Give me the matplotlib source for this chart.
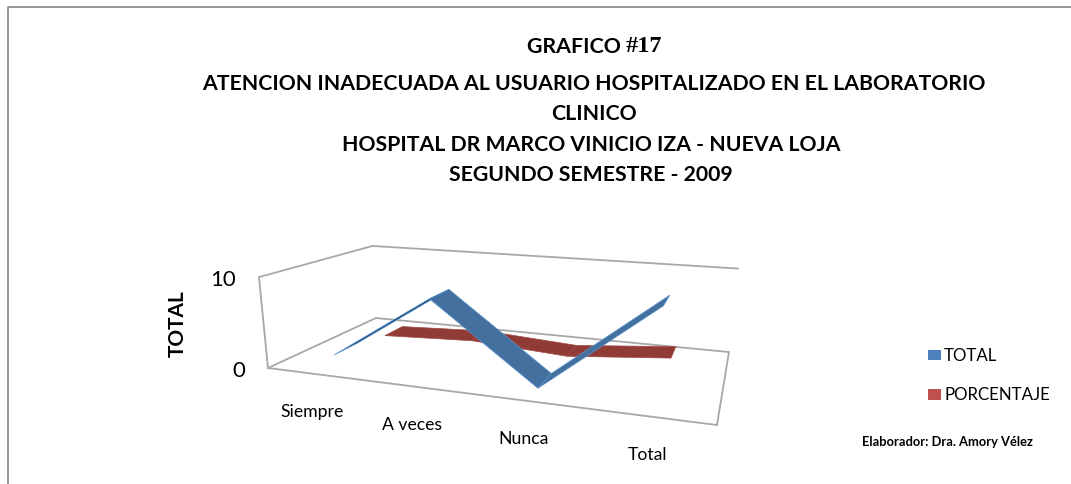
# -*- coding: utf-8 -*-
import matplotlib
matplotlib.use('Agg')
import matplotlib.pyplot as plt
import numpy as np

plt.rcParams['font.family'] = ['Lato', 'DejaVu Sans']

categories = ['Siempre', 'A veces', 'Nunca', 'Total']
total_values = [1.0, 8.3, 0.0, 9.5]
porcentaje_values = [0.2, 0.7, 0.0, 1.05]
value_ticks = [0, 10]
title_lines = ['ATENCION INADECUADA AL USUARIO HOSPITALIZADO EN EL LABORATORIO',
               'CLINICO',
               'HOSPITAL DR MARCO VINICIO IZA - NUEVA LOJA',
               'SEGUNDO SEMESTRE - 2009']

# camera of the 3D box: (category, depth, value) in 0-1 -> pixels of the picture
CAM = np.array([[316.0, 212.6, -19.4, 268.0],
                [-22.0, 38.8, -102.0, 369.0],
                [-0.1855, 0.2783, -0.04, 1.0]])
VMAX = 10.0


def proj(u, w, t):
    p = CAM @ np.array([u, w, t, 1.0])
    return p[0] / p[2], p[1] / p[2]


def draw_ribbon(ax, values, w0, w1, top_color, under_color, edge_color, z):
    us = (np.arange(len(values)) + 0.5) / len(values)
    for i in range(len(values) - 1):
        a0 = proj(us[i], w0, values[i] / VMAX)
        a1 = proj(us[i], w1, values[i] / VMAX)
        b1 = proj(us[i + 1], w1, values[i + 1] / VMAX)
        b0 = proj(us[i + 1], w0, values[i + 1] / VMAX)
        pts = np.array([a0, a1, b1, b0])
        # signed area says if we look at the top or the underside of the ribbon
        x, y = pts[:, 0], pts[:, 1]
        area = np.sum(x * np.roll(y, -1) - np.roll(x, -1) * y)
        color = top_color if area > 0 else under_color
        ax.fill(x, y, facecolor=color, edgecolor=edge_color, lw=0.5, zorder=z)


fig, ax = plt.subplots(figsize=(10.71, 4.85), dpi=100)
fig.subplots_adjust(0, 0, 1, 1)
ax.set_xlim(0, 1071)
ax.set_ylim(485, 0)
ax.axis('off')

# page frame, open at the right and at the bottom
ax.plot([8, 8, 1071], [485, 8, 8], color='#868686', lw=1.2, zorder=1)

# walls and floor
grey = '#a8a8a8'
box_lines = [((0, 0, 1), (0, 0, 0)), ((0, 0, 1), (0, 1, 1)), ((0, 1, 1), (1, 1, 1)),
             ((0, 0, 0), (0, 1, 0)), ((0, 1, 0), (1, 1, 0)), ((1, 1, 0), (1, 0, 0)),
             ((1, 0, 0), (0, 0, 0))]
for p0, p1 in box_lines:
    x0, y0 = proj(*p0)
    x1, y1 = proj(*p1)
    ax.plot([x0, x1], [y0, y1], color=grey, lw=1.3, zorder=2, solid_capstyle='round')

draw_ribbon(ax, porcentaje_values, 0.65, 0.85, '#913b37', '#913b37', '#a04a46', 3)
draw_ribbon(ax, total_values, 0.16, 0.37, '#44709f', '#1f4a78', '#5a94cf', 4)

# titles
ax.text(626, 47, 'GRAFICO ', ha='right', va='center', fontsize=15.4, fontweight='bold', color='black')
ax.text(626, 46, '#17', ha='left', va='center', fontsize=17.5, fontweight='bold',
        family='Liberation Serif', color='black')
title_y = [84, 114, 145, 175]
title_x = [594, 594, 591, 591]
for txt, tx, ty in zip(title_lines, title_x, title_y):
    ax.text(tx, ty, txt, ha='center', va='center', fontsize=15.3, fontweight='bold', color='black')

# tick labels
for i, cat in enumerate(categories):
    x, y = proj((i + 0.5) / len(categories), 0, 0)
    ax.text(x - 3, y + 37, cat, ha='center', va='center', fontsize=12.7, color='black')
for v in value_ticks:
    x, y = proj(0, 0, v / VMAX)
    ax.text(x - 23, y + 2, str(v), ha='right', va='center', fontsize=16, color='black')
ax.text(178, 324, 'TOTAL', rotation=90, ha='center', va='center', fontsize=15, fontweight='bold', color='black')

# legend, drawn by hand to sit where it was in the sheet
ax.fill([928, 941, 941, 928], [351, 351, 361, 361], color='#4f81bd', lw=0)
ax.fill([928, 941, 941, 928], [390, 390, 401, 401], color='#c0504d', lw=0)
ax.text(944, 356, 'TOTAL', va='center', fontsize=12.2, color='black')
ax.text(944, 395, 'PORCENTAJE', va='center', fontsize=12.2, color='black')

ax.text(862, 442, 'Elaborador: Dra. Amory Vélez', va='center', fontsize=9.3, fontweight='bold', color='black')

plt.savefig('out.png', dpi=100)
